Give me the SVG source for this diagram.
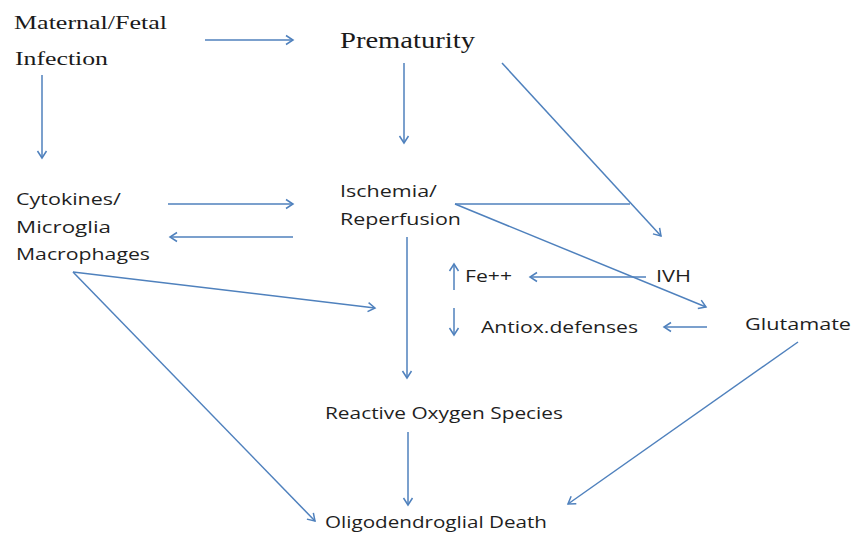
<svg xmlns="http://www.w3.org/2000/svg" width="853" height="533" viewBox="0 0 853 533">
<style>
.serif{font-family:"Liberation Serif","Times New Roman",serif;fill:#1a1a1a}
.sans{font-family:"Open Sans","Liberation Sans",sans-serif;fill:#1f1f1f;font-size:17px}
.c{fill:none;stroke:#4F81BD;stroke-width:1.5}
.a{marker-end:url(#ah)}
</style>
<defs>
<marker id="ah" viewBox="-10 -6 12 12" refX="0" refY="0" markerWidth="12" markerHeight="12" markerUnits="userSpaceOnUse" orient="auto">
<path d="M-7,-4.5 L0,0 L-7,4.5" fill="none" stroke="#4F81BD" stroke-width="1.5"/>
</marker>
</defs>
<rect width="853" height="533" fill="#fff"/>
<g id="maternal">
<text class="serif" x="14" y="29" font-size="19" textLength="153" lengthAdjust="spacingAndGlyphs">Maternal/Fetal</text>
<text class="serif" x="15" y="65" font-size="19" textLength="93" lengthAdjust="spacingAndGlyphs">Infection</text>
</g>
<g id="prematurity">
<text class="serif" x="340" y="48" font-size="24" textLength="135" lengthAdjust="spacingAndGlyphs">Prematurity</text>
</g>
<g id="cytokines">
<text class="sans" x="16" y="205" textLength="105" lengthAdjust="spacingAndGlyphs">Cytokines/</text>
<text class="sans" x="16" y="233" textLength="95" lengthAdjust="spacingAndGlyphs">Microglia</text>
<text class="sans" x="16" y="260" textLength="134" lengthAdjust="spacingAndGlyphs">Macrophages</text>
</g>
<g id="ischemia">
<text class="sans" x="340" y="197" textLength="97" lengthAdjust="spacingAndGlyphs">Ischemia/</text>
<text class="sans" x="340" y="225" textLength="121" lengthAdjust="spacingAndGlyphs">Reperfusion</text>
</g>
<g id="fe">
<path class="c a" d="M454,290 V264"/>
<text class="sans" x="465" y="282" textLength="47" lengthAdjust="spacingAndGlyphs">Fe++</text>
</g>
<g id="antiox">
<path class="c a" d="M454,308 V335"/>
<text class="sans" x="481" y="333" textLength="157" lengthAdjust="spacingAndGlyphs">Antiox.defenses</text>
</g>
<g id="ivh">
<text class="sans" x="656" y="282" textLength="35" lengthAdjust="spacingAndGlyphs">IVH</text>
</g>
<g id="glutamate">
<text class="sans" x="745" y="330" textLength="106" lengthAdjust="spacingAndGlyphs">Glutamate</text>
</g>
<g id="ros">
<text class="sans" x="325" y="419" textLength="238" lengthAdjust="spacingAndGlyphs">Reactive Oxygen Species</text>
</g>
<g id="oligo">
<text class="sans" x="325" y="528" textLength="222" lengthAdjust="spacingAndGlyphs">Oligodendroglial Death</text>
</g>
<g id="connectors">
<path class="c a" d="M205,40 H293"/>
<path class="c a" d="M42,75 V158"/>
<path class="c a" d="M404,63 V143"/>
<path class="c a" d="M502,63 L661,236"/>
<path class="c" d="M455,204 H630"/>
<path class="c a" d="M455,204 L706,307"/>
<path class="c a" d="M168,204 H293"/>
<path class="c a" d="M293,237 H170"/>
<path class="c a" d="M407,237 V378"/>
<path class="c a" d="M73,272 L375,308"/>
<path class="c a" d="M73,272 L315,521"/>
<path class="c a" d="M646,277 H530"/>
<path class="c a" d="M707,327 H664"/>
<path class="c a" d="M798,342 L568,504"/>
<path class="c a" d="M408,432 V505"/>
</g>
</svg>
